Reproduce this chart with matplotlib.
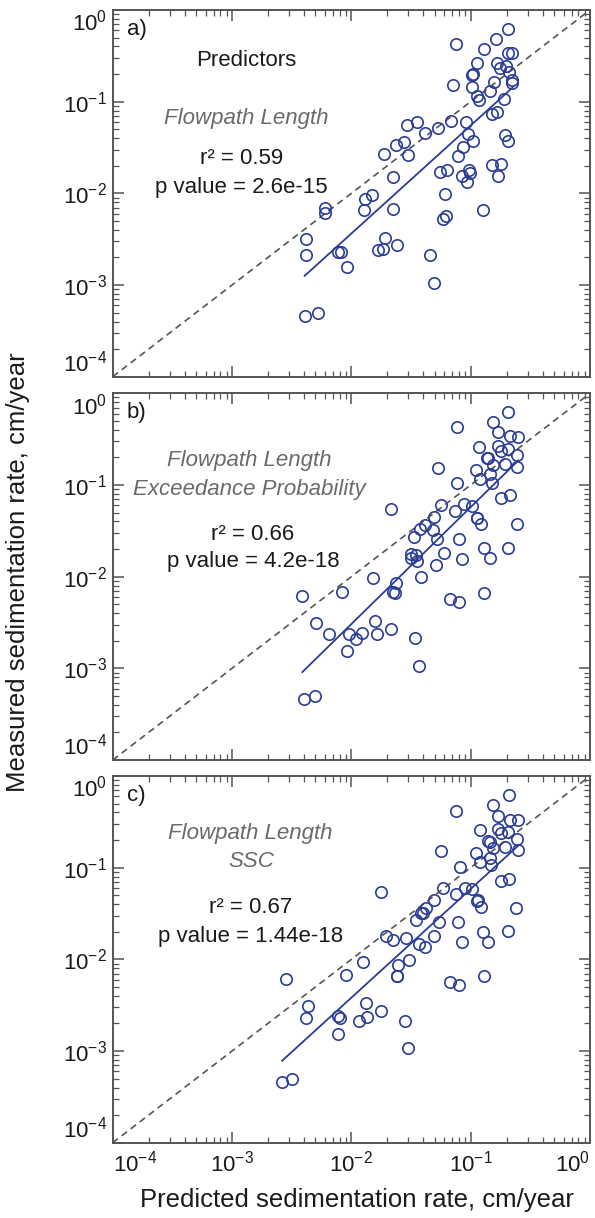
import numpy as np
import matplotlib.pyplot as plt
from matplotlib.ticker import LogLocator, NullFormatter

plt.rcParams['font.family'] = ['Liberation Sans', 'DejaVu Sans']
plt.rcParams['mathtext.fontset'] = 'custom'
plt.rcParams['mathtext.rm'] = 'Liberation Sans'
plt.rcParams['mathtext.it'] = 'Liberation Sans:italic'

# a) Flowpath Length
pred_a = [0.204, 0.162, 0.0754, 0.130, 0.206, 0.224, 0.1125, 0.166, 0.177, 0.197,
          0.1026, 0.1054, 0.209, 0.223, 0.220, 0.071, 0.102, 0.156, 0.1455, 0.1125,
          0.118, 0.189, 0.167, 0.150, 0.0354, 0.0290, 0.0687, 0.0918, 0.0528, 0.0417,
          0.0955, 0.193, 0.204, 0.105, 0.0274, 0.0235, 0.0859, 0.0188, 0.0296, 0.0784,
          0.150, 0.181, 0.171, 0.0553, 0.0639, 0.0968, 0.0987, 0.0854, 0.0936, 0.0224,
          0.0611, 0.0148, 0.0130, 0.0128, 0.0224, 0.00603, 0.00603, 0.126, 0.0622, 0.0583,
          0.00420, 0.00420, 0.0193, 0.0240, 0.0167, 0.0183, 0.00769, 0.00821, 0.0454, 0.00924,
          0.0494, 0.00406, 0.00528]
meas_a = [0.615, 0.483, 0.426, 0.376, 0.343, 0.343, 0.262, 0.266, 0.235, 0.247,
          0.195, 0.200, 0.212, 0.172, 0.158, 0.152, 0.143, 0.165, 0.132, 0.115,
          0.104, 0.107, 0.0778, 0.0727, 0.0605, 0.0552, 0.0621, 0.0595, 0.0520, 0.0451,
          0.0441, 0.0433, 0.0372, 0.0372, 0.0366, 0.0334, 0.0323, 0.0271, 0.0260, 0.0258,
          0.0204, 0.0209, 0.0156, 0.0171, 0.0180, 0.0180, 0.0165, 0.0156, 0.0133, 0.0150,
          0.00984, 0.00951, 0.00861, 0.00658, 0.00681, 0.00686, 0.00615, 0.00658, 0.00566, 0.00525,
          0.00315, 0.00211, 0.00328, 0.00273, 0.00241, 0.00245, 0.00231, 0.00231, 0.00211, 0.00156,
          0.00106, 0.000459, 0.000491]

# b) Flowpath Length + Exceedance Probability
pred_b = [0.206, 0.155, 0.0769, 0.169, 0.213, 0.251, 0.118, 0.171, 0.178, 0.204,
          0.137, 0.141, 0.243, 0.0528, 0.153, 0.193, 0.110, 0.243, 0.144, 0.119,
          0.150, 0.0769, 0.178, 0.213, 0.0216, 0.0561, 0.0734, 0.0877, 0.102, 0.0494,
          0.112, 0.114, 0.122, 0.243, 0.0411, 0.0373, 0.0485, 0.0338, 0.0518, 0.0794,
          0.129, 0.204, 0.0603, 0.0316, 0.0349, 0.0316, 0.0356, 0.0849, 0.144, 0.0511,
          0.0380, 0.0151, 0.0235, 0.0224, 0.0231, 0.0674, 0.0794, 0.129, 0.00832, 0.00388,
          0.00505, 0.0158, 0.00652, 0.00949, 0.0109, 0.0124, 0.0164, 0.0216, 0.0344, 0.00912,
          0.0368, 0.00398, 0.00494]
meas_b = [0.621, 0.483, 0.426, 0.376, 0.343, 0.337, 0.258, 0.266, 0.237, 0.245,
          0.199, 0.195, 0.212, 0.155, 0.165, 0.169, 0.145, 0.158, 0.132, 0.116,
          0.106, 0.104, 0.0727, 0.0778, 0.0547, 0.0605, 0.0520, 0.0621, 0.0595, 0.0451,
          0.0433, 0.0441, 0.0372, 0.0372, 0.0366, 0.0328, 0.0323, 0.0269, 0.0258, 0.0258,
          0.0204, 0.0207, 0.0180, 0.0175, 0.0172, 0.0161, 0.0150, 0.0156, 0.0158, 0.0134,
          0.00984, 0.00959, 0.00861, 0.00675, 0.00658, 0.00570, 0.00525, 0.00658, 0.00675, 0.00610,
          0.00313, 0.00331, 0.00235, 0.00235, 0.00207, 0.00241, 0.00237, 0.00269, 0.00212, 0.00156,
          0.00107, 0.000462, 0.000499]

# c) Flowpath Length + SSC
pred_c = [0.209, 0.155, 0.0759, 0.169, 0.213, 0.248, 0.119, 0.171, 0.178, 0.204,
          0.141, 0.144, 0.243, 0.0561, 0.153, 0.193, 0.110, 0.248, 0.144, 0.119,
          0.148, 0.0811, 0.181, 0.210, 0.0178, 0.0591, 0.0754, 0.0894, 0.103, 0.0494,
          0.114, 0.116, 0.123, 0.240, 0.0420, 0.0380, 0.0398, 0.0349, 0.0542, 0.0784,
          0.126, 0.204, 0.0491, 0.0197, 0.0224, 0.0286, 0.0368, 0.0417, 0.0838, 0.141,
          0.0126, 0.0306, 0.00906, 0.0246, 0.0240, 0.0243, 0.0665, 0.0805, 0.130, 0.00286,
          0.00431, 0.00420, 0.0132, 0.00769, 0.00800, 0.0116, 0.0136, 0.0178, 0.0282, 0.00769,
          0.0300, 0.00263, 0.00318]
meas_c = [0.617, 0.480, 0.417, 0.367, 0.335, 0.329, 0.257, 0.261, 0.236, 0.242,
          0.195, 0.192, 0.208, 0.152, 0.165, 0.169, 0.143, 0.156, 0.129, 0.116,
          0.106, 0.1026, 0.0716, 0.0759, 0.0540, 0.0596, 0.0513, 0.0607, 0.0592, 0.0446,
          0.0435, 0.0442, 0.0371, 0.0367, 0.0361, 0.0324, 0.0324, 0.0270, 0.0255, 0.0255,
          0.0201, 0.0205, 0.0178, 0.0178, 0.0161, 0.0171, 0.0148, 0.0135, 0.0154, 0.0154,
          0.00944, 0.00976, 0.00676, 0.00861, 0.00664, 0.00653, 0.00562, 0.00521, 0.00653, 0.00610,
          0.00313, 0.00230, 0.00330, 0.00240, 0.00230, 0.00212, 0.00236, 0.00270, 0.00212, 0.00154,
          0.00107, 0.000460, 0.000500]

panel_tags = ['a)', 'b)', 'c)']
predictor_names = [['Flowpath Length'],
                   ['Flowpath Length', 'Exceedance Probability'],
                   ['Flowpath Length', 'SSC']]
r2_values = ['0.59', '0.66', '0.67']
p_values = ['2.6e-15', '4.2e-18', '1.44e-18']

decades = [1e-4, 1e-3, 1e-2, 1e-1, 1e0]
decade_labels = [r'$\mathregular{10^{-4}}$', r'$\mathregular{10^{-3}}$', r'$\mathregular{10^{-2}}$',
                 r'$\mathregular{10^{-1}}$', r'$\mathregular{10^{0}}$']

blue = '#2b3c97'
grey = '#555555'

W, H = 595, 1218
fig = plt.figure(figsize=(W / 100, H / 100), dpi=100)

# axes boxes in pixels: left, right, top, height
ax_left, ax_right = 112.7, 590.0
tops = [10.0, 393.3, 776.0]
ax_h = 366.7

# text anchor positions (axes fraction) for each panel
name_pos = [[(0.279, 0.705)], [(0.286, 0.818), (0.286, 0.738)], [(0.288, 0.844), (0.290, 0.766)]]
r2_pos = [(0.269, 0.594), (0.294, 0.615), (0.289, 0.641)]
p_pos = [(0.269, 0.515), (0.294, 0.541), (0.289, 0.562)]

preds = [pred_a, pred_b, pred_c]
meas = [meas_a, meas_b, meas_c]

for i in range(3):
    ax = fig.add_axes([ax_left / W, 1 - (tops[i] + ax_h) / H,
                       (ax_right - ax_left) / W, ax_h / H])
    x = np.array(preds[i])
    y = np.array(meas[i])

    ax.set_xscale('log')
    ax.set_yscale('log')
    ax.set_xlim(1e-4, 1)
    ax.set_ylim(1e-4, 1)

    # 1:1 line
    ax.plot([1e-4, 1], [1e-4, 1], color=grey, lw=1.2, ls=(0, (4, 2.8)), zorder=1)

    # least squares fit in log space
    slope, icpt = np.polyfit(np.log10(x), np.log10(y), 1)
    xf = np.array([x.min(), x.max()])
    ax.plot(xf, 10 ** (icpt + slope * np.log10(xf)), color=blue, lw=1.3, zorder=2)

    ax.plot(x, y, 'o', ms=8.2, mfc='none', mec=blue, mew=1.2, zorder=3)

    ax.set_yticks(decades, labels=decade_labels)
    if i == 2:
        ax.set_xticks(decades, labels=decade_labels)
    else:
        ax.set_xticks(decades, labels=[''] * 5)
    ax.xaxis.set_minor_locator(LogLocator(base=10, subs=np.arange(2, 10), numticks=20))
    ax.yaxis.set_minor_locator(LogLocator(base=10, subs=np.arange(2, 10), numticks=20))
    ax.xaxis.set_minor_formatter(NullFormatter())
    ax.yaxis.set_minor_formatter(NullFormatter())
    ax.tick_params(which='both', direction='in', top=True, right=True, color=grey,
                   labelsize=16, labelcolor='#1a1a1a')
    ax.tick_params(which='major', length=8, width=1.1)
    ax.tick_params(which='minor', length=4, width=0.9)
    ax.tick_params(axis='y', pad=4)
    ax.tick_params(axis='x', pad=6)

    ylabs = ax.get_yticklabels()
    ylabs[0].set_verticalalignment('bottom')
    ylabs[-1].set_verticalalignment('top')
    if i == 2:
        xlabs = ax.get_xticklabels()
        xlabs[0].set_horizontalalignment('left')
        xlabs[-1].set_horizontalalignment('right')

    for sp in ax.spines.values():
        sp.set_color(grey)
        sp.set_linewidth(1.4)

    ax.text(0.030, 0.948, panel_tags[i], transform=ax.transAxes, fontsize=16,
            ha='left', va='center', color='#1a1a1a')
    if i == 0:
        ax.text(0.279, 0.861, 'Predictors', transform=ax.transAxes, fontsize=16,
                ha='center', va='center', color='#1a1a1a')
    for name, (tx, ty) in zip(predictor_names[i], name_pos[i]):
        ax.text(tx, ty, name, transform=ax.transAxes, fontsize=16, style='italic',
                ha='center', va='center', color='#6a6a6a')
    ax.text(*r2_pos[i], 'r\u00b2 = ' + r2_values[i], transform=ax.transAxes, fontsize=16,
            ha='center', va='center', color='#1a1a1a')
    ax.text(*p_pos[i], 'p value = ' + p_values[i], transform=ax.transAxes, fontsize=16,
            ha='center', va='center', color='#1a1a1a')

fig.text(18 / W, 1 - 572 / H, 'Measured sedimentation rate, cm/year', rotation=90,
         ha='center', va='center', fontsize=18.5, color='#1a1a1a')
fig.text(357 / W, 1 - 1200 / H, 'Predicted sedimentation rate, cm/year',
         ha='center', va='center', fontsize=18.5, color='#1a1a1a')

fig.savefig('out.png', dpi=100, facecolor='white')
